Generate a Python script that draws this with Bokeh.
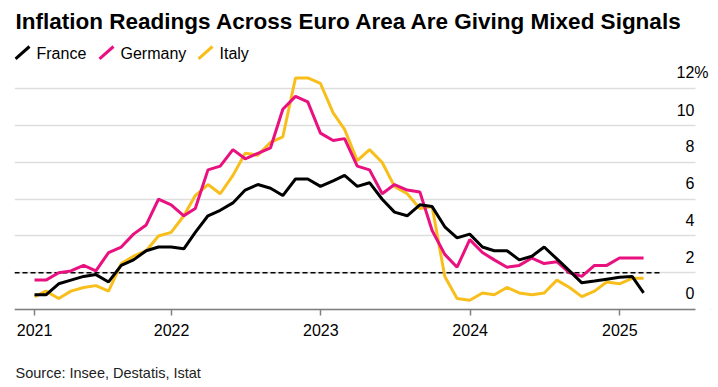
import pandas as pd
from bokeh.plotting import figure
from bokeh.models import Range1d, LinearAxis, FixedTicker, Grid, Label, Arrow, BoxAnnotation
from bokeh.embed import file_html
from bokeh.resources import INLINE

# ---- data (HICP, % y/y), Jan 2021 .. Feb 2025, plotted at month end ----
start_month = "2021-01-01"
france = [0.8, 0.8, 1.4, 1.6, 1.8, 1.9, 1.5, 2.4, 2.7, 3.2, 3.4, 3.4,
          3.3, 4.2, 5.1, 5.4, 5.8, 6.5, 6.8, 6.6, 6.2, 7.1, 7.1, 6.7,
          7.0, 7.3, 6.7, 6.9, 6.0, 5.3, 5.1, 5.7, 5.6, 4.5, 3.9, 4.1,
          3.4, 3.2, 3.2, 2.7, 2.9, 3.4, 2.75, 2.1, 1.45, 1.55, 1.65, 1.75,
          1.8, 0.9]
germany = [1.6, 1.6, 2.0, 2.1, 2.4, 2.1, 3.1, 3.4, 4.1, 4.6, 6.0, 5.7,
           5.1, 5.5, 7.6, 7.8, 8.7, 8.2, 8.5, 8.8, 10.9, 11.6, 11.3, 9.6,
           9.2, 9.3, 7.8, 7.6, 6.3, 6.8, 6.5, 6.4, 4.3, 3.0, 2.3, 3.8,
           3.1, 2.7, 2.3, 2.4, 2.8, 2.5, 2.6, 2.0, 1.8, 2.4, 2.4, 2.8,
           2.8, 2.8]
italy = [0.7, 1.0, 0.6, 1.0, 1.2, 1.3, 1.0, 2.5, 2.9, 3.2, 4.0, 4.2,
         5.1, 6.2, 6.8, 6.3, 7.3, 8.5, 8.4, 9.1, 9.4, 12.6, 12.6, 12.3,
         10.7, 9.8, 8.1, 8.7, 8.0, 6.7, 6.3, 5.5, 5.6, 1.8, 0.6, 0.5,
         0.9, 0.8, 1.2, 0.9, 0.8, 0.9, 1.6, 1.2, 0.7, 1.0, 1.5, 1.4,
         1.7, 1.7]
series_names = ["France", "Germany", "Italy"]
series_colors = ["#000000", "#e8117f", "#f8bf1c"]
year_labels = ["2021", "2022", "2023", "2024", "2025"]
y_ticks = [0, 2, 4, 6, 8, 10, 12]
target_rate = 2.0
target_line_end = "2025-04-11"
title_text = "Inflation Readings Across Euro Area Are Giving Mixed Signals"
source_text = "Source: Insee, Destatis, Istat"

months = pd.date_range(start_month, periods=len(france), freq="MS") + pd.offsets.MonthEnd(0)
origin = months[0]
xdays = [(d - origin).days for d in months]

# year ticks: first at the data start, then Jan 1 of each following year
tick_days = [0] + [(pd.Timestamp(f"{y}-01-01") - origin).days for y in year_labels[1:]]
tick_overrides = {int(t): lab for t, lab in zip(tick_days, year_labels)}

X0, X1 = -49, 1652.6
Y0, Y1 = -4.245, 16.816
FRAME_W, FRAME_H = 696, 387
GRID_END = 681          # px from frame left where the gridlines stop
LABEL_RIGHT = 680       # px from frame left where the value labels end
PCT_W = 14              # width of the "%" sign
FONT = "Liberation Sans"

p = figure(frame_width=FRAME_W, frame_height=FRAME_H,
           x_axis_type=None, y_axis_type=None,
           x_range=Range1d(X0, X1), y_range=Range1d(Y0, Y1),
           min_border_left=14, min_border_right=8, min_border_top=0, min_border_bottom=0,
           toolbar_location=None, output_backend="svg")
p.outline_line_color = None
p.background_fill_color = "white"
p.border_fill_color = "white"

grid = Grid(dimension=1, ticker=FixedTicker(ticks=y_ticks),
            grid_line_color="#dedede", grid_line_width=1.5)
p.add_layout(grid)

xaxis = LinearAxis(ticker=FixedTicker(ticks=tick_days, minor_ticks=[]),
                   fixed_location=0,
                   major_label_overrides=tick_overrides,
                   axis_line_color="#808080", axis_line_width=1.5,
                   major_tick_line_color="#808080", major_tick_line_width=1.5,
                   major_tick_in=0, major_tick_out=6,
                   minor_tick_line_color=None,
                   major_label_text_font=FONT, major_label_text_font_size="16px",
                   major_label_text_color="#000000", major_label_standoff=9)
p.add_layout(xaxis, "below")

# 2% reference line
t_end = (pd.Timestamp(target_line_end) - origin).days
p.line([X0, t_end], [target_rate, target_rate], line_color="#000000",
       line_width=1.5, line_dash="5 3")

# series (Italy first so France is on top)
data = {"France": france, "Germany": germany, "Italy": italy}
for name, color in reversed(list(zip(series_names, series_colors))):
    p.line(xdays, data[name], line_color=color, line_width=3)

# blank strip right of the gridlines (labels overhang there)
p.add_layout(BoxAnnotation(left=GRID_END, right=FRAME_W + 10, left_units="screen",
                           right_units="screen", fill_color="white", fill_alpha=1.0,
                           line_color=None))

# right-side value labels, sitting above their gridlines
for t in y_ticks:
    top = t == y_ticks[-1]
    txt = f"{t}%" if top else str(t)
    p.add_layout(Label(x=LABEL_RIGHT + (PCT_W if top else 0), y=t,
                       x_units="screen", y_units="data", y_offset=16,
                       text=txt, text_align="right", text_baseline="alphabetic",
                       text_font=FONT, text_font_size="16px", text_color="#000000"))

# title
p.add_layout(Label(x=1, y=366, x_units="screen", y_units="screen", text=title_text,
                   text_font=FONT, text_font_size="22.5px", text_font_style="bold",
                   text_color="#000000", text_baseline="alphabetic"))

# legend: diagonal strokes + names
leg_x = [1, 85, 184]
for (name, color), lx in zip(zip(series_names, series_colors), leg_x):
    p.add_layout(Arrow(end=None, x_start=lx, y_start=328.7, x_end=lx + 14, y_end=341,
                       start_units="screen", end_units="screen",
                       line_color=color, line_width=3))
    p.add_layout(Label(x=lx + 21, y=334.5, x_units="screen", y_units="screen", text=name,
                       text_font=FONT, text_font_size="16px", text_color="#000000",
                       text_baseline="alphabetic"))

# source
p.add_layout(Label(x=1, y=15, x_units="screen", y_units="screen", text=source_text,
                   text_font=FONT, text_font_size="14.5px", text_color="#222222",
                   text_baseline="alphabetic"))

open("out.html", "w").write(file_html(p, INLINE))
